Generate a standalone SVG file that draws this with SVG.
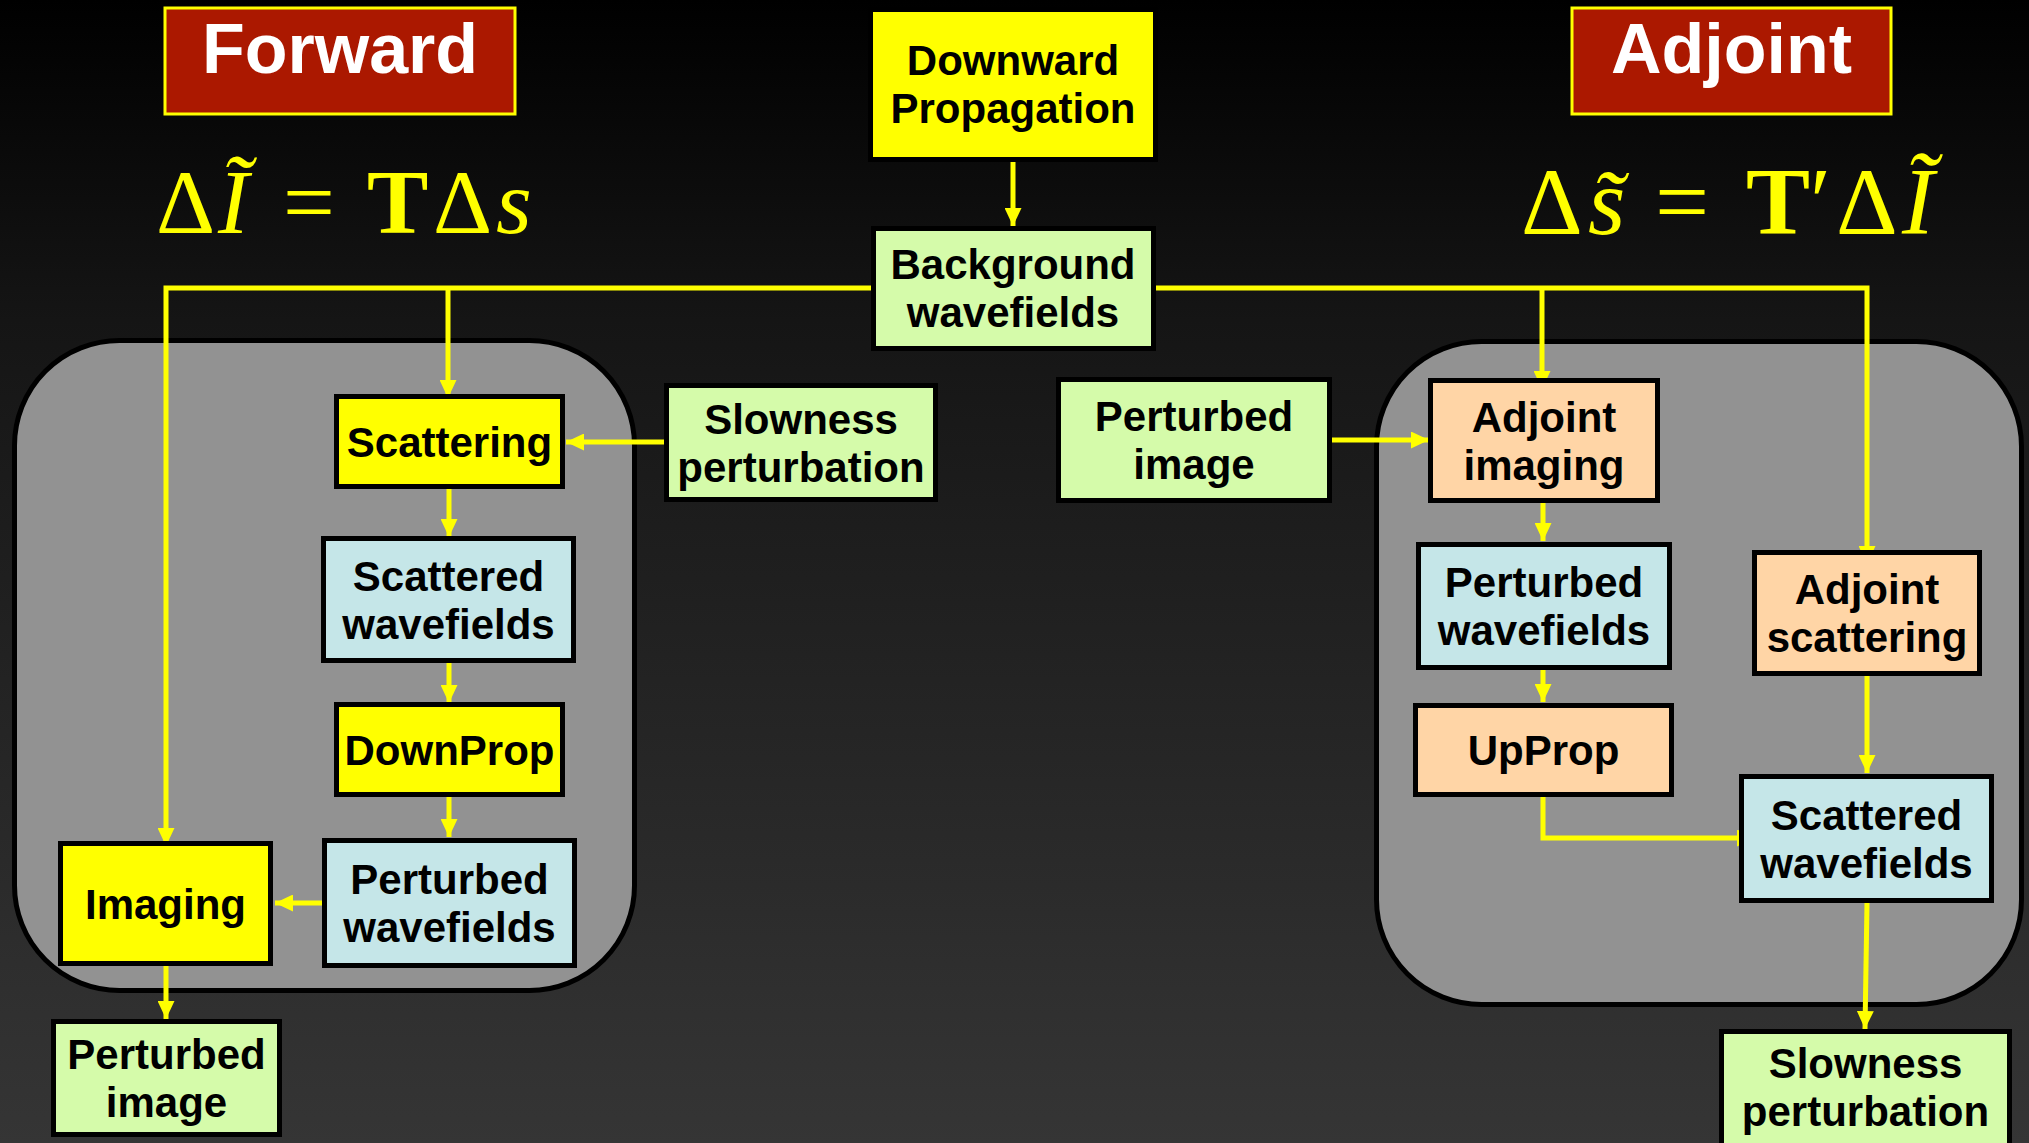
<svg xmlns="http://www.w3.org/2000/svg" width="2029" height="1143" viewBox="0 0 2029 1143">
<defs>
<linearGradient id="bg" x1="0" y1="0" x2="0" y2="1">
<stop offset="0" stop-color="#000000"/>
<stop offset="0.28" stop-color="#151515"/>
<stop offset="1" stop-color="#353535"/>
</linearGradient>
<marker id="ah" markerUnits="userSpaceOnUse" markerWidth="18" markerHeight="17" refX="18" refY="8.5" orient="auto">
<path d="M0,0 L18,8.5 L0,17 z" fill="#FFFF00"/>
</marker>
<style>
.node rect{stroke:#000;stroke-width:5}
.yel{fill:#FFFF00}
.grn{fill:#D5FBAA}
.blu{fill:#C5E6E8}
.pch{fill:#FFD5A6}
.lbl{font-family:"Liberation Sans",Arial,sans-serif;font-weight:bold;font-size:42px;fill:#000;text-anchor:middle}
.title rect{fill:#AB1800;stroke:#FFFF00;stroke-width:3}
.title text{font-family:"Liberation Sans",Arial,sans-serif;font-weight:bold;font-size:70px;fill:#fff;text-anchor:middle}
.cont{fill:#929292;stroke:#000;stroke-width:5}
.math{font-family:"Liberation Serif","Times New Roman",serif;fill:#FFFF00}
.conn{fill:none;stroke:#FFFF00;stroke-width:5}
</style>
</defs>
<rect x="0" y="0" width="2029" height="1143" fill="url(#bg)"/>

<g id="container-forward"><rect class="cont" x="14.5" y="340.5" width="620" height="650" rx="105" ry="105"/></g>
<g id="container-adjoint"><rect class="cont" x="1376.5" y="341.5" width="645" height="663" rx="105" ry="105"/></g>

<g id="title-forward" class="title"><rect x="165" y="8" width="350" height="106"/><text x="340" y="73">Forward</text></g>
<g id="title-adjoint" class="title"><rect x="1572" y="8" width="319" height="106"/><text x="1731.5" y="73">Adjoint</text></g>

<g id="eq-forward">
<text class="math" font-size="92"><tspan x="156" y="233">Δ</tspan><tspan x="218" y="233" font-style="italic">Ĩ</tspan><tspan x="283" y="233">=</tspan><tspan x="367" y="233" font-weight="bold">T</tspan><tspan x="433" y="233">Δ</tspan><tspan x="496" y="233" font-style="italic">s</tspan></text>
</g>
<g id="eq-adjoint">
<text class="math" font-size="96"><tspan x="1521" y="234">Δ</tspan><tspan x="1588" y="234" font-style="italic">s̃</tspan><tspan x="1655" y="234">=</tspan><tspan x="1746" y="234" font-weight="bold">T</tspan><tspan x="1810" y="234">′</tspan><tspan x="1836" y="234">Δ</tspan><tspan x="1902" y="234" font-style="italic">Ĩ</tspan></text>
</g>

<g id="connectors" class="conn">
<path d="M1013,162 V226" marker-end="url(#ah)"/>
<path d="M871,288 H166 V846" marker-end="url(#ah)"/>
<path d="M448,288 V398" marker-end="url(#ah)"/>
<path d="M664,442 H566" marker-end="url(#ah)"/>
<path d="M449,489 V537" marker-end="url(#ah)"/>
<path d="M449,663 V703" marker-end="url(#ah)"/>
<path d="M449,797 V837" marker-end="url(#ah)"/>
<path d="M322,903 H275" marker-end="url(#ah)"/>
<path d="M166,966 V1019" marker-end="url(#ah)"/>
<path d="M1156,288 H1867 V564" marker-end="url(#ah)"/>
<path d="M1542,288 V389" marker-end="url(#ah)"/>
<path d="M1332,440 H1429" marker-end="url(#ah)"/>
<path d="M1543,503 V541" marker-end="url(#ah)"/>
<path d="M1543,670 V702" marker-end="url(#ah)"/>
<path d="M1543,797 V838 H1755" marker-end="url(#ah)"/>
<path d="M1867,676 V773" marker-end="url(#ah)"/>
<path d="M1867,903 L1865,1029" marker-end="url(#ah)"/>
</g>

<g id="downward-propagation" class="node"><rect class="yel" x="870.5" y="9.5" width="285" height="150"/><text class="lbl" x="1013" y="75">Downward</text><text class="lbl" x="1013" y="123">Propagation</text></g>
<g id="background-wavefields" class="node"><rect class="grn" x="873.5" y="228.5" width="280" height="120"/><text class="lbl" x="1013" y="279">Background</text><text class="lbl" x="1013" y="327">wavefields</text></g>
<g id="slowness-perturbation-left" class="node"><rect class="grn" x="666.5" y="385.5" width="269" height="114"/><text class="lbl" x="801" y="434">Slowness</text><text class="lbl" x="801" y="482">perturbation</text></g>
<g id="scattering" class="node"><rect class="yel" x="336.5" y="396.5" width="226" height="90"/><text class="lbl" x="449.5" y="456.5">Scattering</text></g>
<g id="scattered-wavefields-left" class="node"><rect class="blu" x="323.5" y="538.5" width="250" height="122"/><text class="lbl" x="448.5" y="590.5">Scattered</text><text class="lbl" x="448.5" y="638.5">wavefields</text></g>
<g id="downprop" class="node"><rect class="yel" x="336.5" y="704.5" width="226" height="90"/><text class="lbl" x="449.5" y="764.5">DownProp</text></g>
<g id="perturbed-wavefields-left" class="node"><rect class="blu" x="324.5" y="840.5" width="250" height="125"/><text class="lbl" x="449.5" y="894">Perturbed</text><text class="lbl" x="449.5" y="942">wavefields</text></g>
<g id="imaging" class="node"><rect class="yel" x="60.5" y="843.5" width="210" height="120"/><text class="lbl" x="165.5" y="918.5">Imaging</text></g>
<g id="perturbed-image-left" class="node"><rect class="grn" x="53.5" y="1021.5" width="226" height="113"/><text class="lbl" x="166.5" y="1069">Perturbed</text><text class="lbl" x="166.5" y="1117">image</text></g>

<g id="perturbed-image-mid" class="node"><rect class="grn" x="1058.5" y="379.5" width="271" height="121"/><text class="lbl" x="1194" y="431">Perturbed</text><text class="lbl" x="1194" y="479">image</text></g>
<g id="adjoint-imaging" class="node"><rect class="pch" x="1430.5" y="380.5" width="227" height="120"/><text class="lbl" x="1544" y="431.5">Adjoint</text><text class="lbl" x="1544" y="479.5">imaging</text></g>
<g id="perturbed-wavefields-right" class="node"><rect class="blu" x="1418.5" y="544.5" width="251" height="123"/><text class="lbl" x="1544" y="597">Perturbed</text><text class="lbl" x="1544" y="645">wavefields</text></g>
<g id="upprop" class="node"><rect class="pch" x="1415.5" y="705.5" width="256" height="89"/><text class="lbl" x="1543.5" y="765">UpProp</text></g>
<g id="adjoint-scattering" class="node"><rect class="pch" x="1754.5" y="552.5" width="225" height="121"/><text class="lbl" x="1867" y="604">Adjoint</text><text class="lbl" x="1867" y="652">scattering</text></g>
<g id="scattered-wavefields-right" class="node"><rect class="blu" x="1741.5" y="776.5" width="250" height="124"/><text class="lbl" x="1866.5" y="829.5">Scattered</text><text class="lbl" x="1866.5" y="877.5">wavefields</text></g>
<g id="slowness-perturbation-right" class="node"><rect class="grn" x="1721.5" y="1031.5" width="288" height="125"/><text class="lbl" x="1865.5" y="1078">Slowness</text><text class="lbl" x="1865.5" y="1126">perturbation</text></g>
</svg>
